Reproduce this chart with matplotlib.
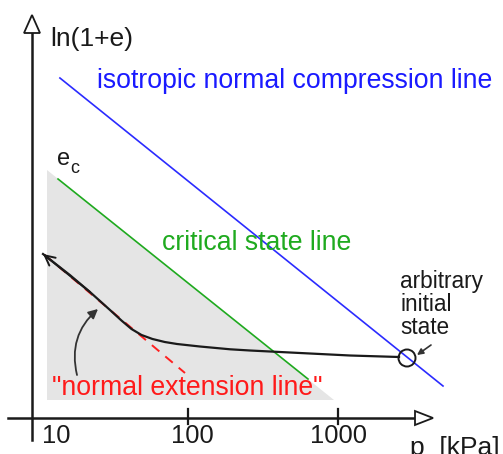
import matplotlib
matplotlib.use("Agg")
import matplotlib.pyplot as plt
from matplotlib.patches import Polygon

plt.rcParams['font.family'] = ['Liberation Sans', 'DejaVu Sans']

# ---- data (p in kPa, y = ln(1+e) in arbitrary units) ----
ncl_p = [14.0, 5012.0]
ncl_y = [3.76, 0.68]

csl_p = [13.6, 631.0]
csl_y = [2.75, 0.75]

region_p = [11.5, 11.5, 940.0]
region_y = [2.84, 0.54, 0.54]

nel_p = [11.1, 95.5]
nel_y = [1.99, 0.81]

path_p = [10.8, 16.3, 22.2, 30.2, 36.0, 42.0, 49.0, 58.0, 70.0, 84.5, 120.0, 191.0, 259.0, 558.0, 1202.0, 2551.0]
path_y = [2.00, 1.79, 1.62, 1.44, 1.335, 1.25, 1.19, 1.15, 1.12, 1.10, 1.075, 1.047, 1.035, 1.01, 0.985, 0.97]

init_p = 2884.0
init_y = 0.96

tick_values = [100, 1000]
tick_labels = ["10", "100", "1000"]

W, H = 503, 454
fig = plt.figure(figsize=(W / 100, H / 100), dpi=100)
ax = fig.add_axes([0, 0, 1, 1])
ax.set_xscale('log')
ax.set_xlim(10 ** (1 - 38 / 150), 10 ** (1 + 465 / 150))
ax.set_ylim(0, 4.54)
ax.axis('off')

def px(x, y):
    return (x / W, 1 - y / H)

# shaded region
ax.fill(region_p, region_y, color='#e5e5e5', lw=0, zorder=1)

# lines
ax.plot(ncl_p, ncl_y, color='#2b2bff', lw=1.2, zorder=3)
ax.plot(csl_p, csl_y, color='#1faa1f', lw=1.2, zorder=3)
ax.plot(nel_p, nel_y, color='#ff2020', lw=1.4, ls=(0, (5, 4)), zorder=3)
ax.plot(path_p, path_y, color='#1a1a1a', lw=1.6, zorder=4, solid_joinstyle='round')
ax.annotate('', xy=(path_p[0], path_y[0]), xytext=(path_p[2], path_y[2]),
            arrowprops=dict(arrowstyle='->', color='#1a1a1a', lw=1.4,
                            mutation_scale=18, shrinkA=0, shrinkB=0), zorder=4)
ax.scatter([init_p], [init_y], s=150, facecolors='none', edgecolors='#1a1a1a',
           linewidths=1.4, zorder=5)

# axes
tA = ax.transAxes
ax.plot(*zip(px(32, 440), px(32, 33)), transform=tA, color='#1a1a1a', lw=1.8, zorder=6)
ax.plot(*zip(px(8, 418), px(415, 418)), transform=tA, color='#1a1a1a', lw=1.8, zorder=6)
ax.add_patch(Polygon([px(32, 15), px(24, 33), px(40, 33)], closed=True, transform=tA,
                     fc='white', ec='#1a1a1a', lw=1.3, zorder=6))
ax.add_patch(Polygon([px(433, 418), px(415, 411), px(415, 425)], closed=True, transform=tA,
                     fc='white', ec='#1a1a1a', lw=1.3, zorder=6))
for tv in tick_values:
    ax.plot([tv, tv], [(454 - 409) / 100, (454 - 424) / 100], color='#1a1a1a', lw=1.6, zorder=6)

# tick labels
for lab, x in zip(tick_labels, [56, 192, 338]):
    ax.text(*px(x, 443), lab, transform=tA, ha='center', va='baseline', fontsize=18.4, color='#1a1a1a')
ax.text(*px(410, 455), "p  [kPa]", transform=tA, ha='left', va='baseline', fontsize=19, color='#1a1a1a')
ax.text(*px(50, 46), "ln(1+e)", transform=tA, ha='left', va='baseline', fontsize=19, color='#1a1a1a')

# annotations
ax.text(*px(97, 88), "isotropic normal compression line", transform=tA, ha='left', va='baseline',
        fontsize=19.2, color='#1a1aff')
ax.text(*px(162, 250), "critical state line", transform=tA, ha='left', va='baseline',
        fontsize=19.2, color='#1faa1f')
ax.text(*px(52, 395), '"normal extension line"', transform=tA, ha='left', va='baseline',
        fontsize=19.2, color='#ff1a1a')
ax.text(*px(57, 165), "e", transform=tA, ha='left', va='baseline', fontsize=17, color='#1a1a1a')
ax.text(*px(70, 173), "c", transform=tA, ha='left', va='baseline', fontsize=13, color='#1a1a1a')
for line, yb in zip(["arbitrary", "initial", "state"], [288, 311, 334]):
    ax.text(*px(400, yb), line, transform=tA, ha='left', va='baseline', fontsize=16.3, color='#1a1a1a')

# small pointer arrows
ax.annotate('', xy=px(98, 309), xytext=px(77, 375), xycoords=tA, textcoords=tA,
            arrowprops=dict(arrowstyle='-|>', color='#333333', lw=1.3, mutation_scale=14,
                            connectionstyle='arc3,rad=-0.3', shrinkA=0, shrinkB=0), zorder=7)
ax.annotate('', xy=px(417, 355), xytext=px(431, 345), xycoords=tA, textcoords=tA,
            arrowprops=dict(arrowstyle='-|>', color='#333333', lw=1.2, mutation_scale=9,
                            shrinkA=0, shrinkB=0), zorder=7)

fig.savefig("out.png", dpi=100)
